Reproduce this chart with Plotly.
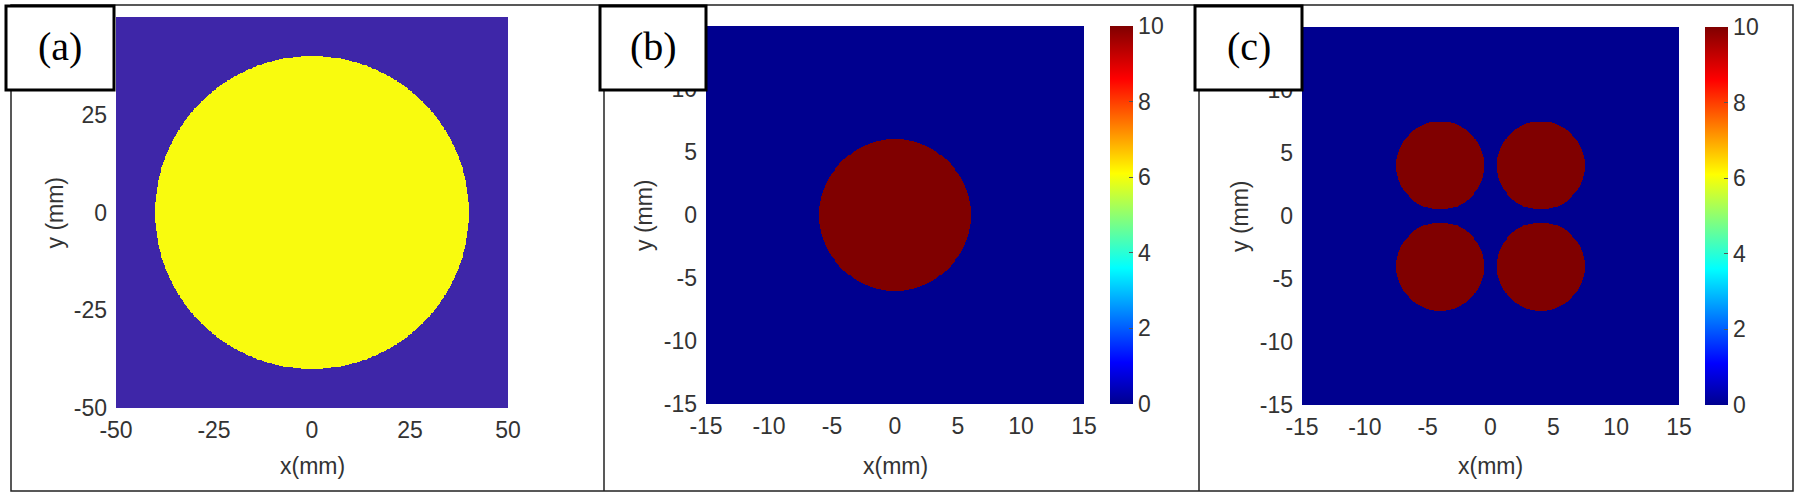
import numpy as np
import plotly.graph_objects as go

W, H = 1800, 498

# ---------------- data ----------------
# panel (a): one disk (parula map, binary value)
a_cx = [0.0]
a_cy = [0.0]
a_r = [40.0]
a_val = [1.0]
a_range = [-50, 50]
a_xticks = [-50, -25, 0, 25, 50]
a_yticks = [-50, -25, 0, 25]          # 50 is hidden under the (a) label box

# panel (b): one disk (jet map, 0..10)
b_cx = [0.0]
b_cy = [0.0]
b_r = [6.0]
b_val = [10.0]

# panel (c): four disks
c_cx = [-4.0, 4.0, -4.0, 4.0]
c_cy = [4.0, 4.0, -4.0, -4.0]
c_r = [3.5, 3.5, 3.5, 3.5]
c_val = [10.0, 10.0, 10.0, 10.0]

bc_range = [-15, 15]
bc_xticks = [-15, -10, -5, 0, 5, 10, 15]
bc_yticks = [-15, -10, -5, 0, 5, 10]  # 15 is hidden under the label box
cbar_ticks = [0, 2, 4, 6, 8, 10]
panel_labels = ["(a)", "(b)", "(c)"]


def disk_grid(rng, n, cx, cy, r, val):
    d = (rng[1] - rng[0]) / n
    g = np.linspace(rng[0] + d / 2, rng[1] - d / 2, n)
    X, Y = np.meshgrid(g, g)
    Z = np.zeros_like(X)
    for x0, y0, r0, v in zip(cx, cy, r, val):
        Z[(X - x0) ** 2 + (Y - y0) ** 2 <= r0 ** 2] = v
    return g, Z


parula = [[0.0, "#3E26A8"], [1.0, "#F9FB0E"]]
jet = [[0.0, "rgb(0,0,143)"], [0.11, "rgb(0,0,255)"], [0.36, "rgb(0,255,255)"],
       [0.61, "rgb(255,255,0)"], [0.86, "rgb(255,0,0)"], [1.0, "rgb(128,0,0)"]]


def px_x(p):
    return p / W


def px_y(p):
    return 1 - p / H


# pixel boxes of the plot areas (left, right, top, bottom)
boxes = [(116, 508, 17, 408), (706, 1084, 26, 404), (1302, 1679, 27, 405)]
cbars = [None, (1110, 1133, 26, 404), (1705, 1728, 27, 405)]

fig = go.Figure()

ga, Za = disk_grid(a_range, 500, a_cx, a_cy, a_r, a_val)
gb, Zb = disk_grid(bc_range, 400, b_cx, b_cy, b_r, b_val)
gc, Zc = disk_grid(bc_range, 400, c_cx, c_cy, c_r, c_val)

fig.add_trace(go.Heatmap(x=ga, y=ga, z=Za, colorscale=parula, zmin=0, zmax=1,
                         showscale=False, xaxis="x", yaxis="y", hoverinfo="skip"))

font_tick = dict(family="Liberation Sans", size=23, color="#333")

for i, (g, Z) in enumerate([(gb, Zb), (gc, Zc)], start=1):
    l, r, t, b = cbars[i]
    fig.add_trace(go.Heatmap(
        x=g, y=g, z=Z, colorscale=jet, zmin=0, zmax=10, hoverinfo="skip",
        xaxis=f"x{i+1}", yaxis=f"y{i+1}",
        colorbar=dict(x=px_x(l), xanchor="left", xpad=0, ypad=0,
                      y=px_y(t), yanchor="top", len=(b - t) / H, lenmode="fraction",
                      thickness=r - l, thicknessmode="pixels", outlinewidth=0,
                      tickvals=cbar_ticks, ticktext=[str(v) for v in cbar_ticks],
                      ticks="inside", ticklen=4,
                      tickcolor="#555", tickfont=font_tick)))

layout = dict(width=W, height=H,
              margin=dict(l=0, r=0, t=0, b=0, pad=0, autoexpand=False),
              paper_bgcolor="white", plot_bgcolor="white", showlegend=False)

for i, (l, r, t, b) in enumerate(boxes):
    sx = "" if i == 0 else str(i + 1)
    rng = a_range if i == 0 else bc_range
    xt = a_xticks if i == 0 else bc_xticks
    yt = a_yticks if i == 0 else bc_yticks
    layout[f"xaxis{sx}"] = dict(domain=[px_x(l), px_x(r)], range=rng, tickvals=xt,
                                ticktext=[str(v) for v in xt],
                                showgrid=False, zeroline=False, showline=False, ticks="",
                                tickfont=font_tick, ticklabelstandoff=6,
                                anchor=f"y{sx}")
    layout[f"yaxis{sx}"] = dict(domain=[px_y(b), px_y(t)], range=rng, tickvals=yt,
                                ticktext=[str(v) for v in yt],
                                showgrid=False, zeroline=False, showline=False, ticks="",
                                tickfont=font_tick, ticklabelstandoff=8,
                                anchor=f"x{sx}")
fig.update_layout(**layout)

shapes = []
ann = []
line_c = "#222"
# outer frame and dividers
shapes.append(dict(type="rect", xref="paper", yref="paper", x0=px_x(11), x1=px_x(1793),
                   y0=px_y(491), y1=px_y(5), line=dict(color=line_c, width=1.5),
                   fillcolor="rgba(0,0,0,0)", layer="above"))
for xd in (604, 1199):
    shapes.append(dict(type="line", xref="paper", yref="paper", x0=px_x(xd), x1=px_x(xd),
                       y0=px_y(491), y1=px_y(5), line=dict(color=line_c, width=1.5), layer="above"))

label_boxes = [(6, 114), (600, 706), (1195, 1302)]
for (l, r), txt in zip(label_boxes, panel_labels):
    shapes.append(dict(type="rect", xref="paper", yref="paper", x0=px_x(l), x1=px_x(r),
                       y0=px_y(90), y1=px_y(6), line=dict(color="black", width=3),
                       fillcolor="white", layer="above"))
    ann.append(dict(xref="paper", yref="paper", x=px_x((l + r) / 2), y=px_y(47),
                    text=txt, showarrow=False, xanchor="center", yanchor="middle",
                    font=dict(family="Liberation Serif", size=40, color="black")))

font_title = dict(family="Liberation Sans", size=23, color="#333")
for (l, r, t, b) in boxes:
    ann.append(dict(xref="paper", yref="paper", x=px_x((l + r) / 2), y=px_y(466),
                    text="x(mm)", showarrow=False, xanchor="center", yanchor="middle",
                    font=font_title))
    ann.append(dict(xref="paper", yref="paper", x=px_x(l - 62), y=px_y((t + b) / 2),
                    text="y (mm)", showarrow=False, xanchor="center", yanchor="middle",
                    textangle=-90, font=font_title))

fig.update_layout(shapes=shapes, annotations=ann)
fig.write_html("out.html", config={"displayModeBar": False},
               post_script="document.body.style.margin='0';document.body.style.overflow='hidden';")
